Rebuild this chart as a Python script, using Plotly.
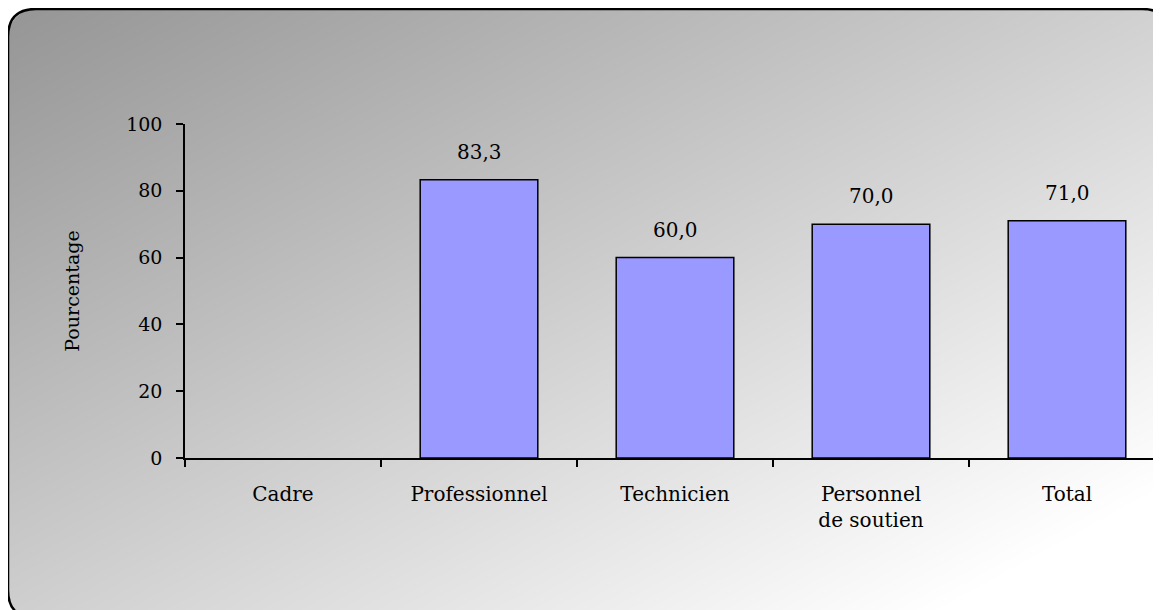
import base64
import struct
import zlib

import numpy as np
import plotly.graph_objects as go

# ---- data ----
categories = ["Cadre", "Professionnel", "Technicien", "Personnel<br>de soutien", "Total"]
values = [None, 83.3, 60.0, 70.0, 71.0]
y_ticks = [0, 20, 40, 60, 80, 100]

W, H = 1161, 610
FONT = "DejaVu Serif"
OFF = 8  # page body margin offset

# plot area in figure pixels
L, T = 177, 116
R_EDGE, B_EDGE = 1157, 450
PW, PH = R_EDGE - L, B_EDGE - T


def fx(x):  # figure pixel -> paper fraction
    return (x - L) / PW


def fy(y):
    return (B_EDGE - y) / PH


def rrect_sdf(xx, yy, x0, y0, x1, y1, r):
    cx, cy = (x0 + x1) / 2, (y0 + y1) / 2
    bx, by = (x1 - x0) / 2 - r, (y1 - y0) / 2 - r
    qx = np.abs(xx - cx) - bx
    qy = np.abs(yy - cy) - by
    outside = np.sqrt(np.maximum(qx, 0) ** 2 + np.maximum(qy, 0) ** 2)
    inside = np.minimum(np.maximum(qx, qy), 0)
    return outside + inside - r


BOX = (8 - OFF, 9 - OFF, 1170 - OFF, 618 - OFF, 28)


def make_background():
    yy, xx = np.mgrid[0:H, 0:W].astype(float) + 0.5
    shadow_cov = np.clip(0.5 - rrect_sdf(xx - 3, yy - 3, *BOX), 0, 1)
    box_cov = np.clip(0.5 - rrect_sdf(xx, yy, *BOX), 0, 1)
    tx, ty = xx + OFF, yy + OFF
    grad = np.clip(148.4 + 0.0520 * tx + 0.0950 * ty, 0, 255)
    col = grad * box_cov
    alpha = box_cov + shadow_cov * (1 - box_cov)
    rgb = np.where(alpha > 0, col / np.maximum(alpha, 1e-6), 0)
    img = np.zeros((H, W, 4), dtype=np.uint8)
    img[..., 0] = img[..., 1] = img[..., 2] = np.clip(rgb, 0, 255).astype(np.uint8)
    img[..., 3] = np.clip(alpha * 255, 0, 255).astype(np.uint8)
    raw = b"".join(b"\x00" + img[r].tobytes() for r in range(H))

    def chunk(tag, data):
        c = struct.pack(">I", len(data)) + tag + data
        return c + struct.pack(">I", zlib.crc32(tag + data) & 0xFFFFFFFF)

    png = b"\x89PNG\r\n\x1a\n"
    png += chunk(b"IHDR", struct.pack(">IIBBBBB", W, H, 8, 6, 0, 0, 0))
    png += chunk(b"IDAT", zlib.compress(raw, 9))
    png += chunk(b"IEND", b"")
    return "data:image/png;base64," + base64.b64encode(png).decode()


def rrect_path(x0, y0, x1, y1, r):
    return (
        f"M {fx(x0 + r)},{fy(y0)} L {fx(x1 - r)},{fy(y0)} "
        f"Q {fx(x1)},{fy(y0)} {fx(x1)},{fy(y0 + r)} L {fx(x1)},{fy(y1 - r)} "
        f"Q {fx(x1)},{fy(y1)} {fx(x1 - r)},{fy(y1)} L {fx(x0 + r)},{fy(y1)} "
        f"Q {fx(x0)},{fy(y1)} {fx(x0)},{fy(y1 - r)} L {fx(x0)},{fy(y0 + r)} "
        f"Q {fx(x0)},{fy(y0)} {fx(x0 + r)},{fy(y0)} Z"
    )


fig = go.Figure()
fig.add_trace(
    go.Bar(
        x=categories,
        y=values,
        width=0.6,
        marker=dict(color="#9999FF", line=dict(color="black", width=1.5)),
        hoverinfo="skip",
    )
)

for c, v in zip(categories, values):
    if v is None:
        continue
    fig.add_annotation(
        x=c, y=v, text=f"{v:.1f}".replace(".", ","), showarrow=False,
        yanchor="bottom", yshift=14, font=dict(family=FONT, size=20, color="black"),
    )

fig.add_layout_image(
    source=make_background(), xref="paper", yref="paper", x=fx(0), y=fy(0),
    sizex=W / PW, sizey=H / PH, xanchor="left", yanchor="top", sizing="stretch",
    layer="below",
)
fig.add_shape(
    type="path", xref="paper", yref="paper",
    path=rrect_path(*BOX),
    line=dict(color="black", width=2.5), fillcolor="rgba(0,0,0,0)", layer="below",
)

fig.update_layout(
    width=W, height=H,
    margin=dict(l=L, r=W - R_EDGE, t=T, b=H - B_EDGE, autoexpand=False),
    paper_bgcolor="white", plot_bgcolor="rgba(0,0,0,0)",
    showlegend=False,
    font=dict(family=FONT, size=19, color="black"),
)
fig.update_xaxes(
    showline=True, linecolor="black", linewidth=1.5, ticks="outside", ticklen=7,
    tickwidth=1.5, tickcolor="black", tickson="boundaries", showgrid=False,
    ticklabelstandoff=17, tickfont=dict(family=FONT, size=20),
)
fig.update_yaxes(
    range=[0, 100], tickvals=y_ticks, showline=True, linecolor="black", linewidth=1.5,
    ticks="outside", ticklen=7, tickwidth=1.5, tickcolor="black", showgrid=False,
    zeroline=False, ticklabelstandoff=10, tickfont=dict(family=FONT, size=19),
    title=dict(text="Pourcentage", font=dict(family=FONT, size=19), standoff=42),
)

fig.write_html("out.html")
